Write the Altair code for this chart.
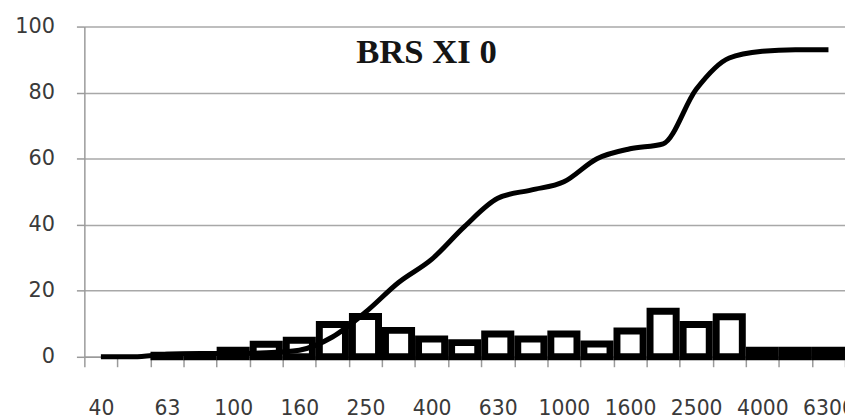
import altair as alt
import pandas as pd

# Frequency bands (Hz)
freqs = ["40", "50", "63", "80", "100", "125", "160", "200", "250", "315", "400",
         "500", "630", "800", "1000", "1250", "1600", "2000", "2500", "3150",
         "4000", "5000", "6300"]
# labels that are printed under the axis
shown_labels = ["40", "63", "100", "160", "250", "400", "630", "1000", "1600",
                "2500", "4000", "6300"]
# per-band share (%) - bars
band_pct = [0, 0, 0.5, 0.5, 2, 3.8, 5, 9.8, 12.2, 8, 5.4, 4.3, 6.9, 5.4, 6.9,
            3.9, 7.8, 13.8, 9.8, 12.1, 2, 2, 2]
# cumulative curve (%)
cum_pct = [0, 0, 0.8, 1, 1, 1.2, 2, 6, 13.5, 22.5, 29.5, 39.5, 48, 50.5, 53,
           60, 63, 64.5, 81, 90.5, 92.5, 93, 93]
title_text = "BRS XI 0"

df = pd.DataFrame({"freq": freqs, "band": band_pct, "cum": cum_pct})

label_list = ",".join("'%s'" % s for s in shown_labels)
label_expr = "indexof([%s], datum.label) >= 0 ? datum.label : ''" % label_list

x_enc = alt.X(
    "freq:N",
    sort=freqs,
    scale=alt.Scale(paddingInner=0, paddingOuter=0),
    axis=alt.Axis(
        title=None,
        labelAngle=0,
        tickBand="extent",
        labelExpr=label_expr,
        labelOverlap=False,
        labelBound=False,
        labelFlush=False,
        tickSize=10,
        tickColor="#9a9a9a",
        tickWidth=1.5,
        domainColor="#9a9a9a",
        domainWidth=1.5,
        labelPadding=32,
        labelFont="DejaVu Sans",
        labelFontSize=20.5,
        labelColor="#3a3a3a",
        grid=False,
    ),
)

y_scale = alt.Scale(domain=[0, 100], nice=False)
y_axis = alt.Axis(
    title=None,
    values=[0, 20, 40, 60, 80, 100],
    grid=True,
    gridColor="#a8a8a8",
    gridWidth=1.5,
    tickSize=8,
    tickColor="#9a9a9a",
    tickWidth=1.5,
    domainColor="#9a9a9a",
    domainWidth=1.5,
    labelPadding=22,
    labelFont="DejaVu Sans",
    labelFontSize=21,
    labelColor="#3a3a3a",
)

base = alt.Chart(df)

bars = base.transform_filter("datum.band > 0").mark_bar(
    width=alt.RelativeBandSize(0.79),
    fill="white",
    stroke="black",
    strokeWidth=7,
    strokeJoin="miter",
).encode(x=x_enc, y=alt.Y("band:Q", scale=y_scale, axis=y_axis))

line = base.mark_line(
    color="black", strokeWidth=5, interpolate="monotone"
).encode(x=x_enc, y=alt.Y("cum:Q", scale=y_scale, axis=y_axis))

title = alt.Chart(pd.DataFrame({"t": [title_text]})).mark_text(
    font="Liberation Serif",
    fontWeight="bold",
    fontSize=35,
    color="#151515",
    align="center",
    baseline="alphabetic",
).encode(text="t:N", x=alt.value(345), y=alt.value(37))

chart = alt.layer(bars, line, title).properties(
    width=767,
    height=333,
    autosize=alt.AutoSizeParams(type="none"),
    padding={"left": 77, "top": 17, "right": 0, "bottom": 61},
    background="white",
).configure_view(stroke=None)

chart.save("out.html", embed_options={"renderer": "svg", "actions": False})
